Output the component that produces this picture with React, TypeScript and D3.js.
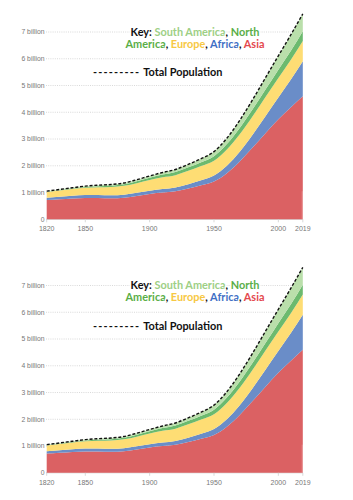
import React from 'react';
import * as d3 from 'd3';

const years = [1820, 1830, 1840, 1850, 1860, 1870, 1880, 1890, 1900, 1910, 1920, 1930, 1940, 1950, 1960, 1970, 1980, 1990, 2000, 2010, 2019];
const asia = [0.72, 0.75, 0.78, 0.8, 0.8, 0.79, 0.81, 0.87, 0.95, 1.0, 1.05, 1.15, 1.27, 1.41, 1.72, 2.16, 2.68, 3.22, 3.74, 4.2, 4.6];
const africa = [0.09, 0.095, 0.1, 0.11, 0.11, 0.11, 0.11, 0.12, 0.12, 0.13, 0.14, 0.16, 0.19, 0.23, 0.28, 0.36, 0.48, 0.63, 0.81, 1.04, 1.31];
const europe = [0.21, 0.23, 0.25, 0.27, 0.29, 0.31, 0.33, 0.36, 0.4, 0.44, 0.46, 0.5, 0.53, 0.55, 0.61, 0.66, 0.69, 0.72, 0.73, 0.74, 0.75];
const northAmerica = [0.011, 0.014, 0.019, 0.026, 0.035, 0.045, 0.057, 0.07, 0.08, 0.1, 0.12, 0.135, 0.145, 0.17, 0.2, 0.23, 0.26, 0.28, 0.31, 0.34, 0.37];
const southAmerica = [0.02, 0.025, 0.03, 0.035, 0.04, 0.045, 0.05, 0.06, 0.07, 0.08, 0.09, 0.11, 0.13, 0.17, 0.22, 0.29, 0.36, 0.44, 0.52, 0.6, 0.65];

const seriesKeys = ['asia', 'africa', 'europe', 'northAmerica', 'southAmerica'];
const seriesColors = ['#db6163', '#6a8dc8', '#fedd74', '#6cba6e', '#badfab'];

const yTicks = [0, 1, 2, 3, 4, 5, 6, 7];
const yTickLabels = ['0', '1 billion', '2 billion', '3 billion', '4 billion', '5 billion', '6 billion', '7 billion'];
const xTicks = [1820, 1850, 1900, 1950, 2000, 2019];

const rows = years.map((yr, i) => ({
  year: yr,
  asia: asia[i],
  africa: africa[i],
  europe: europe[i],
  northAmerica: northAmerica[i],
  southAmerica: southAmerica[i],
}));

const FONT = '"Liberation Sans", Arial, sans-serif';
const KEYFONT = 'Lato, "Open Sans", sans-serif';

function Chart({ offset }: { offset: number }) {
  const x = d3.scaleLinear().domain([1820, 2019]).range([46.7, 302.8]);
  const y = d3.scaleLinear().domain([0, 7]).range([219.3, 32]);
  const stack = d3.stack<any>().keys(seriesKeys);
  const stacked = stack(rows);
  const area = d3
    .area<any>()
    .x((d) => x(d.data.year))
    .y0((d) => y(d[0]))
    .y1((d) => y(d[1]))
    .curve(d3.curveMonotoneX);
  const totalLine = d3
    .line<any>()
    .x((d) => x(d.year))
    .y((d) => y(d.asia + d.africa + d.europe + d.northAmerica + d.southAmerica))
    .curve(d3.curveMonotoneX);

  const halo = { stroke: '#fff', strokeWidth: 3, paintOrder: 'stroke' as any, strokeLinejoin: 'round' as any };

  return (
    <g transform={`translate(0,${offset})`}>
      {yTicks.map((t, i) => (
        <g key={t}>
          {t > 0 ? (
            <line x1={46} x2={302.8} y1={y(t)} y2={y(t)} stroke="#cfcfcf" strokeWidth={0.8} strokeDasharray="1,1.2" />
          ) : (
            <line x1={46} x2={302.8} y1={y(t)} y2={y(t)} stroke="#cfcfcf" strokeWidth={1} />
          )}
          <text x={44.5} y={y(t)} dy="0.35em" textAnchor="end" fontSize={6.8} fill="#777" fontFamily={FONT}>
            {yTickLabels[i]}
          </text>
        </g>
      ))}
      {stacked.map((s, i) => (
        <path key={s.key} d={area(s) || ''} fill={seriesColors[i]} />
      ))}
      <line x1={x(2019) - 0.5} x2={x(2019) - 0.5} y1={y(0)} y2={y(1.05)} stroke="#ea9a9b" strokeWidth={1} />
      <path d={totalLine(rows) || ''} fill="none" stroke="#111" strokeWidth={1.4} strokeDasharray="3,1.8" />
      {xTicks.map((t) => (
        <g key={t}>
          <line x1={x(t)} x2={x(t)} y1={y(0)} y2={y(0) + 3} stroke="#cfcfcf" strokeWidth={0.8} />
          <text x={x(t)} y={231} textAnchor="middle" fontSize={7} fill="#777" fontFamily={FONT}>
            {t}
          </text>
        </g>
      ))}
      <g fontFamily={KEYFONT} fontWeight={700} fontSize={10.9}>
        <text x={195} y={35.8} textAnchor="middle" {...halo}>
          <tspan fill="#111">Key: </tspan>
          <tspan fill="#9dcf85">South America</tspan>
          <tspan fill="#111">, </tspan>
          <tspan fill="#5aae47">North</tspan>
        </text>
        <text x={195} y={47.8} textAnchor="middle" {...halo}>
          <tspan fill="#5aae47">America</tspan>
          <tspan fill="#111">, </tspan>
          <tspan fill="#f7c843">Europe</tspan>
          <tspan fill="#111">, </tspan>
          <tspan fill="#3f6fc5">Africa</tspan>
          <tspan fill="#111">, </tspan>
          <tspan fill="#e4484e">Asia</tspan>
        </text>
        <text x={93} y={76.3} fill="#111" {...halo}>
          <tspan letterSpacing={1.2}>---------</tspan>
          <tspan dx={3}>Total Population</tspan>
        </text>
      </g>
    </g>
  );
}

export default function App() {
  return (
    <svg
      width={353}
      height={500}
      style={{ position: 'absolute', left: 0, top: 0, background: '#fff' }}
    >
      <rect width={353} height={500} fill="#fff" />
      <Chart offset={0} />
      <Chart offset={253.5} />
    </svg>
  );
}
